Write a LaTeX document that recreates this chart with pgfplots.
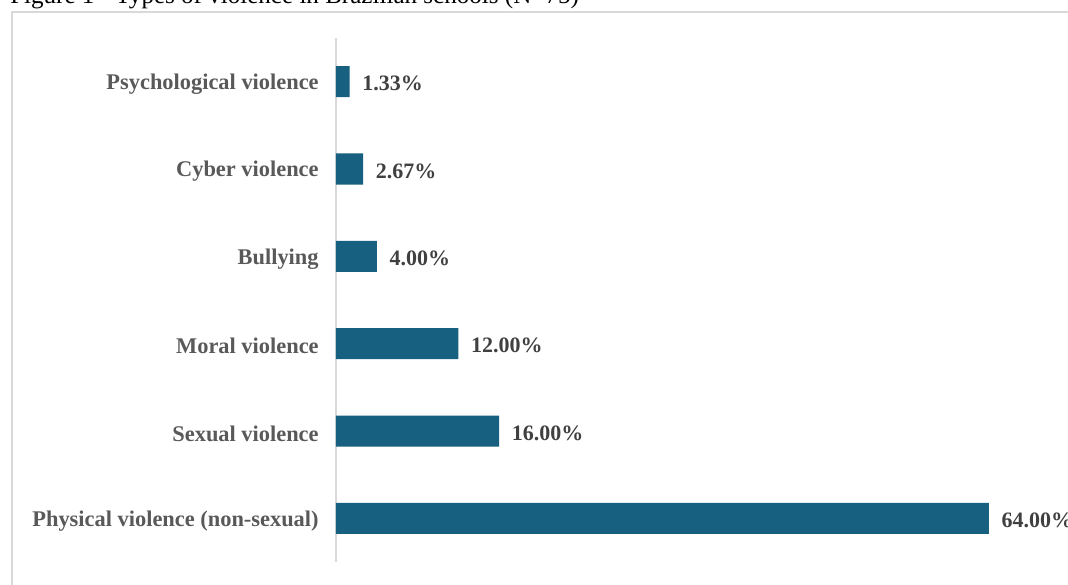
\documentclass[border=0pt]{standalone}
\usepackage{fontspec}
\setmainfont{Liberation Serif}
\usepackage{pgfplots}
\pgfplotsset{compat=1.18}
\definecolor{barc}{HTML}{17607F}
\definecolor{txt}{HTML}{404040}
\definecolor{lbl}{HTML}{595959}
\definecolor{gridc}{HTML}{D9D9D9}
\begin{document}
\begin{tikzpicture}[x=0.75pt,y=-0.75pt]
\useasboundingbox (0,0) rectangle (1068,585);
\draw[gridc, line width=1.2pt] (12,12) rectangle (1100,620);
\node[anchor=base west, font=\fontsize{18.8}{22}\selectfont, inner sep=0] at (10,4) {Figure 1 - Types of violence in Brazilian schools (N=75)};
\begin{axis}[
  at={(252pt,-421.5pt)}, anchor=south west,
  scale only axis, width=550.8pt, height=393pt,
  xbar, bar width=23.25pt,
  xmin=0, xmax=72, ymin=-0.5, ymax=5.5,
  axis x line=none,
  axis y line*=left,
  y axis line style={gridc, line width=1.2pt, -},
  ytick={0,1,2,3,4,5},
  yticklabels={Physical violence (non-sexual),Sexual violence,Moral violence,Bullying,Cyber violence,Psychological violence},
  major tick length=0pt,
  yticklabel style={font=\bfseries\fontsize{16.8}{18}\selectfont, text=lbl, xshift=-9.5pt, yshift=-1.8pt},
  clip=false,
  /pgf/number format/assume math mode=true,
  nodes near coords={\pgfmathprintnumber[fixed,fixed zerofill,precision=2,assume math mode=true]{\pgfplotspointmeta}\%},
  point meta=x,
  nodes near coords style={font=\bfseries\fontsize{16.5}{18}\selectfont, text=txt, anchor=west, xshift=6pt, yshift=-1.5pt},
]
\addplot[fill=barc, draw=none] coordinates {(64,0) (16,1) (12,2) (4,3) (2.67,4) (1.33,5)};
\end{axis}
\end{tikzpicture}
\end{document}
